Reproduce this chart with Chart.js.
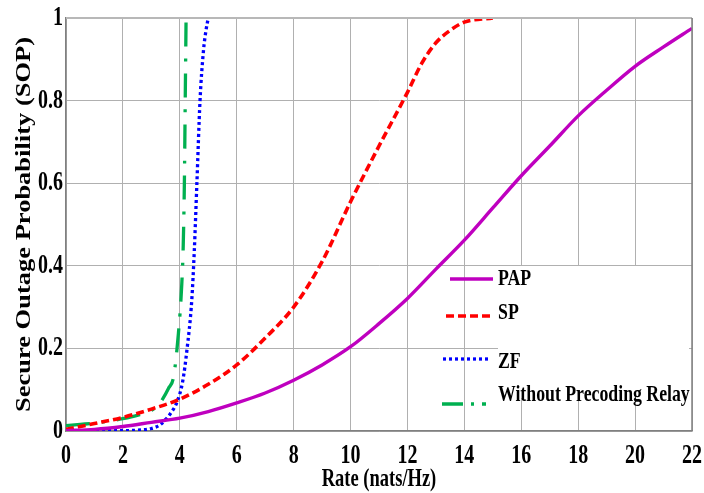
<!DOCTYPE html>
<html>
<head>
<meta charset="utf-8">
<script src="https://cdn.jsdelivr.net/npm/chart.js@4/dist/chart.umd.min.js"></script>
<style>
  html, body { margin: 0; padding: 0; background: #ffffff; }
  #wrap { position: relative; width: 704px; height: 493px; }
</style>
</head>
<body>
<div id="wrap"><canvas id="c" width="704" height="493"></canvas></div>
<script>
// ---- data ----
const xTicks = [0, 2, 4, 6, 8, 10, 12, 14, 16, 18, 20, 22];
const yTicks = [0, 0.2, 0.4, 0.6, 0.8, 1];

const seriesNames = ['PAP', 'SP', 'ZF', 'Without Precoding Relay'];

const papRate = [0, 1, 2, 3, 4, 5, 6, 7, 8, 9, 10, 11, 12, 13, 14, 15, 16, 17, 18, 19, 20, 21, 22];
const papSOP  = [0.001, 0.004, 0.011, 0.021, 0.031, 0.047, 0.068, 0.092, 0.123, 0.160, 0.204, 0.260, 0.321, 0.392, 0.462, 0.540, 0.618, 0.690, 0.763, 0.825, 0.883, 0.930, 0.975];

const spRate = [0, 1, 2, 3, 4, 5, 6, 7, 8, 9, 10, 11, 12, 12.5, 13, 13.5, 14, 15];
const spSOP  = [0.004, 0.018, 0.033, 0.053, 0.077, 0.113, 0.160, 0.225, 0.300, 0.410, 0.555, 0.690, 0.820, 0.890, 0.940, 0.970, 0.990, 1.000];

const zfRate = [0, 0.5, 1, 1.5, 2, 2.5, 3, 3.3, 3.5, 3.7, 3.9, 4.1, 4.25, 4.42, 4.51, 4.6, 4.71, 4.83, 4.92, 5.0];
const zfSOP  = [0.000, 0.001, 0.001, 0.001, 0.001, 0.002, 0.006, 0.015, 0.028, 0.045, 0.070, 0.120, 0.196, 0.317, 0.438, 0.600, 0.800, 0.920, 0.970, 1.000];

const wprRate = [0, 0.5, 1, 1.5, 2, 2.5, 3, 3.2, 3.4, 3.6, 3.78, 3.95, 4.07, 4.12, 4.16, 4.19, 4.22];
const wprSOP  = [0.013, 0.016, 0.019, 0.024, 0.030, 0.038, 0.050, 0.060, 0.078, 0.103, 0.131, 0.236, 0.357, 0.450, 0.600, 0.800, 1.000];

// ---- helpers ----
function pts(xs, ys) { return xs.map((x, i) => ({ x: x, y: ys[i] })); }

const canvas = document.getElementById('c');
const ctx = canvas.getContext('2d');

// condensed text look of the reference (glyphs narrower than tall)
const SQX = 0.74, SQY = 0.8;
const nativeFill = CanvasRenderingContext2D.prototype.fillText;
ctx.fillText = function (text, x, y, maxWidth) {
  const m = this.getTransform();
  const rotated = Math.abs(m.b) > 1e-6;
  this.save();
  this.translate(x, y);
  if (rotated) this.scale(1, SQY); else this.scale(SQX, 1);
  if (maxWidth !== undefined) nativeFill.call(this, text, 0, 0, maxWidth / (rotated ? 1 : SQX));
  else nativeFill.call(this, text, 0, 0);
  this.restore();
};

const FONT = "'Liberation Serif', 'Times New Roman', serif";

const styles = [
  { color: '#bf00bf', dash: [],              width: 3.4 },
  { color: '#ff0000', dash: [8, 4],          width: 3.6 },
  { color: '#0000ff', dash: [3, 3],          width: 3.3 },
  { color: '#00b050', dash: [24, 12, 3, 12], width: 3.3 }
];
const seriesData = [pts(papRate, papSOP), pts(spRate, spSOP), pts(zfRate, zfSOP), pts(wprRate, wprSOP)];

const datasets = seriesNames.map((name, i) => ({
  label: name,
  data: seriesData[i],
  borderColor: styles[i].color,
  borderDash: styles[i].dash,
  borderWidth: styles[i].width,
  pointRadius: 0,
  fill: false,
  cubicInterpolationMode: 'monotone'
}));

const legendBoxPlugin = {
  id: 'legendBox',
  beforeDatasetsDraw(chart) {
    const c = chart.ctx;
    c.save();
    c.fillStyle = '#ffffff';
    c.fillRect(498, 266, 191, 132);
    c.restore();
  },
  afterDraw(chart) {
    const c = chart.ctx;
    const a = chart.chartArea;
    c.save();
    // top and right frame
    c.strokeStyle = '#b8b8b8';
    c.lineWidth = 2;
    c.beginPath();
    c.moveTo(a.left, a.top); c.lineTo(a.right, a.top);
    c.stroke();
    c.strokeStyle = '#808080';
    c.lineWidth = 1.5;
    c.beginPath();
    c.moveTo(a.right, a.top); c.lineTo(a.right, a.bottom);
    c.stroke();

    // legend entries
    const rows = [
      { x1: 450, x2: 493, y: 279, ty: 279 },
      { x1: 446, x2: 490, y: 316, ty: 313 },
      { x1: 443, x2: 488, y: 359, ty: 362 },
      { x1: 442, x2: 486, y: 404, ty: 395 }
    ];
    chart.data.datasets.forEach((ds, i) => {
      const r = rows[i];
      c.strokeStyle = ds.borderColor;
      c.lineWidth = ds.borderWidth;
      c.setLineDash(i === 3 ? [21, 8, 3, 8] : ds.borderDash);
      c.beginPath();
      c.moveTo(r.x1, r.y); c.lineTo(r.x2, r.y);
      c.stroke();
      c.setLineDash([]);
      c.fillStyle = '#000000';
      c.font = "bold 24px " + FONT;
      c.textAlign = 'left';
      c.textBaseline = 'middle';
      c.fillText(ds.label, 498, r.ty);
    });
    c.restore();
  }
};

new Chart(ctx, {
  type: 'line',
  data: { datasets: datasets },
  plugins: [legendBoxPlugin],
  options: {
    responsive: false,
    animation: false,
    devicePixelRatio: 1,
    layout: { padding: { top: 18, right: 12, left: 0, bottom: 0 } },
    plugins: { legend: { display: false }, tooltip: { enabled: false } },
    scales: {
      x: {
        type: 'linear',
        min: 0, max: 22,
        afterBuildTicks(scale) { scale.ticks = xTicks.map(v => ({ value: v })); },
        afterFit(scale) { scale.height = 62; scale.paddingLeft = 0; scale.paddingRight = 0; },
        ticks: {
          color: '#000000',
          font: { family: FONT, size: 27, weight: 'bold' },
          padding: 9,
          maxRotation: 0,
          autoSkip: false
        },
        grid: { color: '#b0b0b0', lineWidth: 1, drawTicks: false },
        border: { color: '#808080', width: 1.5 },
        title: {
          display: true,
          text: 'Rate (nats/Hz)',
          color: '#000000',
          font: { family: FONT, size: 25, weight: 'bold', lineHeight: 1.0 },
          padding: { top: 0, bottom: 1 }
        }
      },
      y: {
        type: 'linear',
        min: 0, max: 1,
        afterBuildTicks(scale) { scale.ticks = yTicks.map(v => ({ value: v })); },
        afterFit(scale) { scale.width = 66; scale.paddingTop = 0; scale.paddingBottom = 0; },
        ticks: {
          color: '#000000',
          font: { family: FONT, size: 27, weight: 'bold' },
          padding: 3,
          callback: (v) => String(v)
        },
        grid: { color: '#b0b0b0', lineWidth: 1, drawTicks: false },
        border: { color: '#808080', width: 1.5 },
        title: {
          display: true,
          text: 'Secure Outage Probability (SOP)',
          color: '#000000',
          font: { family: FONT, size: 26.5, weight: 'bold' },
          padding: { top: 9, bottom: 0 }
        }
      }
    }
  }
});
</script>
</body>
</html>
